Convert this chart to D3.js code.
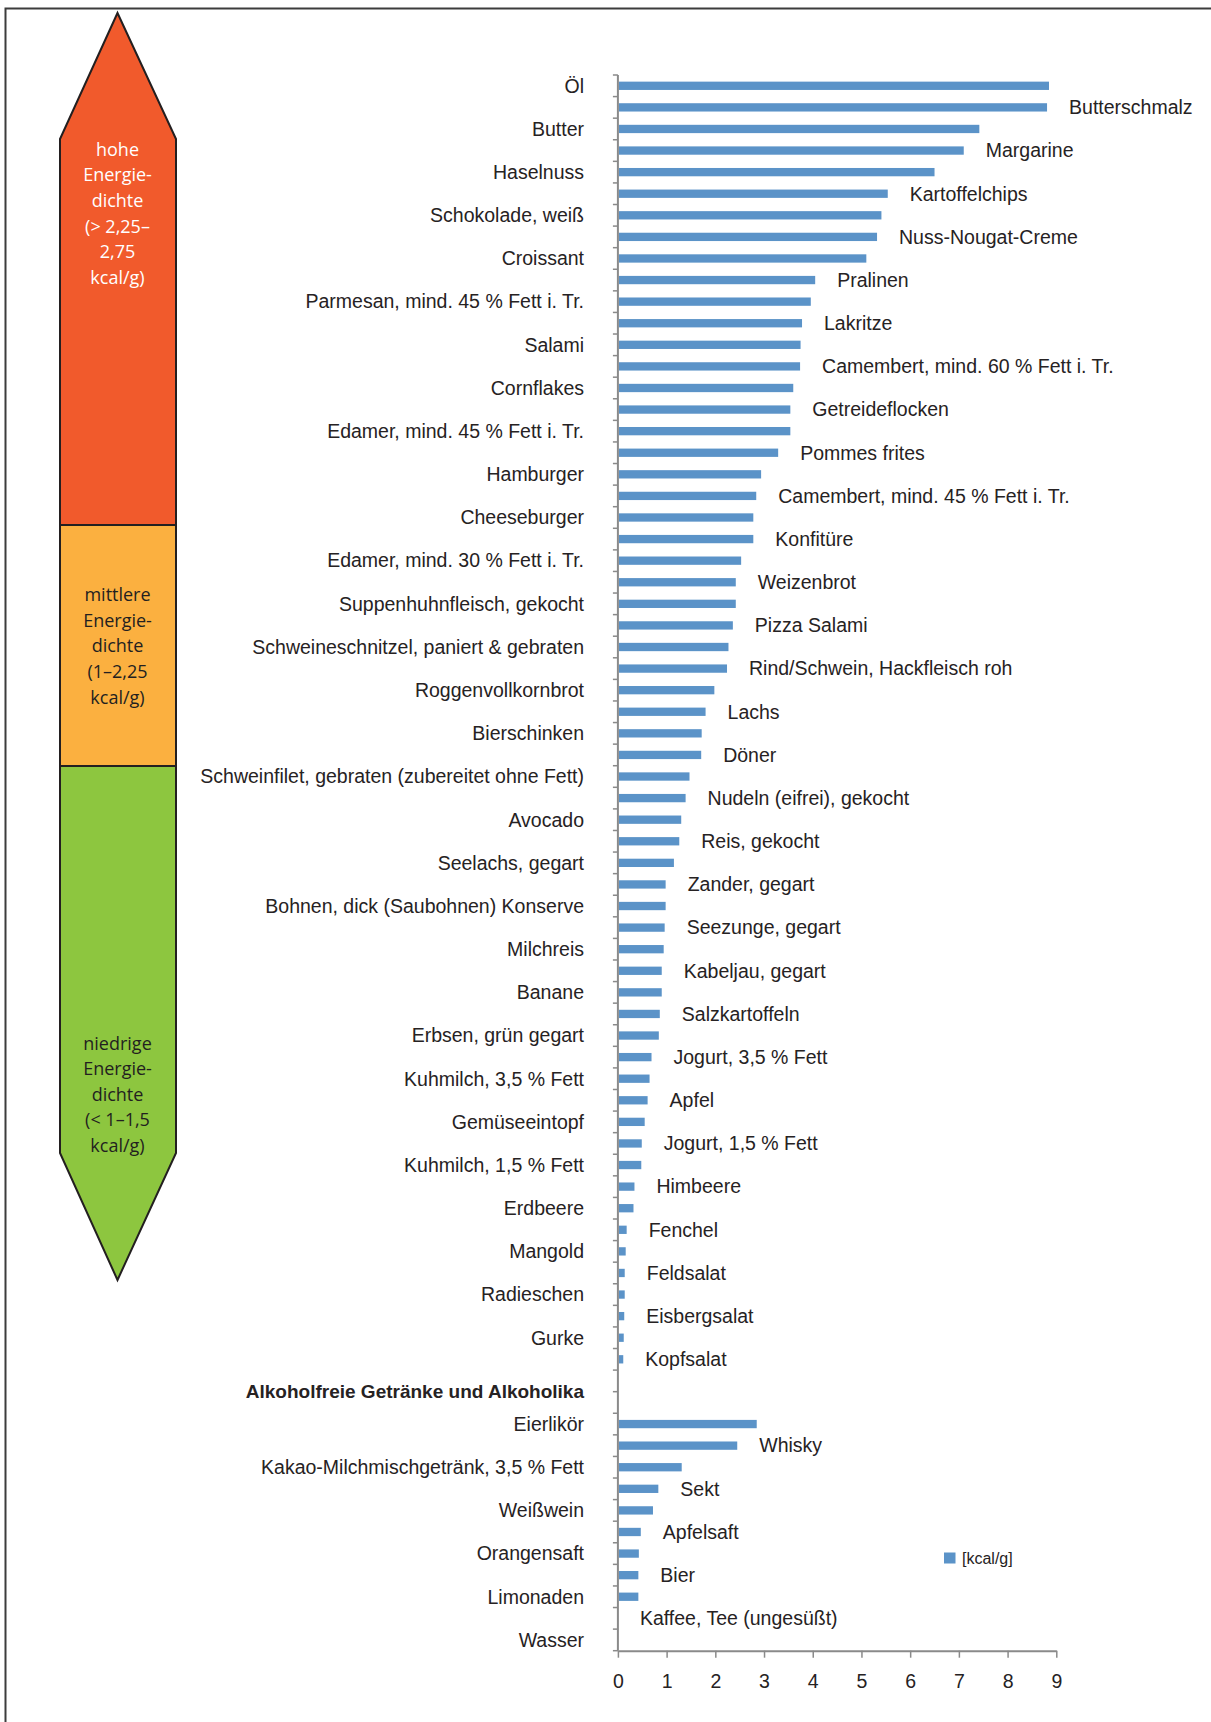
<!DOCTYPE html>
<html><head><meta charset="utf-8">
<script src="https://cdn.jsdelivr.net/npm/d3@7"></script>
<style>body{margin:0;background:#fff}</style>
</head><body>
<svg id="c" width="1211" height="1722"></svg>
<script>
const foods = ["Öl","Butterschmalz","Butter","Margarine","Haselnuss","Kartoffelchips","Schokolade, weiß","Nuss-Nougat-Creme","Croissant","Pralinen","Parmesan, mind. 45 % Fett i. Tr.","Lakritze","Salami","Camembert, mind. 60 % Fett i. Tr.","Cornflakes","Getreideflocken","Edamer, mind. 45 % Fett i. Tr.","Pommes frites","Hamburger","Camembert, mind. 45 % Fett i. Tr.","Cheeseburger","Konfitüre","Edamer, mind. 30 % Fett i. Tr.","Weizenbrot","Suppenhuhnfleisch, gekocht","Pizza Salami","Schweineschnitzel, paniert & gebraten","Rind/Schwein, Hackfleisch roh","Roggenvollkornbrot","Lachs","Bierschinken","Döner","Schweinfilet, gebraten (zubereitet ohne Fett)","Nudeln (eifrei), gekocht","Avocado","Reis, gekocht","Seelachs, gegart","Zander, gegart","Bohnen, dick (Saubohnen) Konserve","Seezunge, gegart","Milchreis","Kabeljau, gegart","Banane","Salzkartoffeln","Erbsen, grün gegart","Jogurt, 3,5 % Fett","Kuhmilch, 3,5 % Fett","Apfel","Gemüseeintopf","Jogurt, 1,5 % Fett","Kuhmilch, 1,5 % Fett","Himbeere","Erdbeere","Fenchel","Mangold","Feldsalat","Radieschen","Eisbergsalat","Gurke","Kopfsalat"];
const foodValues = [8.85,8.81,7.42,7.10,6.50,5.54,5.41,5.32,5.10,4.05,3.96,3.78,3.75,3.74,3.60,3.54,3.54,3.29,2.94,2.84,2.78,2.78,2.53,2.42,2.42,2.36,2.27,2.24,1.98,1.80,1.72,1.71,1.47,1.39,1.30,1.26,1.15,0.98,0.98,0.96,0.94,0.90,0.90,0.86,0.84,0.69,0.65,0.61,0.55,0.49,0.48,0.34,0.32,0.18,0.16,0.14,0.14,0.13,0.12,0.11];
const groupHeader = "Alkoholfreie Getränke und Alkoholika";
const spacers = ["__spacer1","__spacer2"];
const drinks = ["Eierlikör","Whisky","Kakao-Milchmischgetränk, 3,5 % Fett","Sekt","Weißwein","Apfelsaft","Orangensaft","Bier","Limonaden","Kaffee, Tee (ungesüßt)","Wasser"];
const drinkValues = [2.85,2.45,1.31,0.83,0.72,0.47,0.43,0.42,0.42,0,0];
const xTicks = [0,1,2,3,4,5,6,7,8,9];
const legendLabel = "[kcal/g]";
const zoneHigh = ["hohe","Energie-","dichte","(> 2,25–","2,75","kcal/g)"];
const zoneMid = ["mittlere","Energie-","dichte","(1–2,25","kcal/g)"];
const zoneLow = ["niedrige","Energie-","dichte","(< 1–1,5","kcal/g)"];

const rows = foods.map((c,i)=>({c, v: foodValues[i]}))
  .concat(spacers.map(c=>({c, v:null})))
  .concat(drinks.map((c,i)=>({c, v: drinkValues[i]})));
const domain = rows.map(d=>d.c);

const svg = d3.select("#c");
const barColor = "#5b93c8";
const textColor = "#262223";
const axisColor = "#8a8a8a";
const labelFont = "'Liberation Sans', Arial, sans-serif";

// frame
svg.append("path").attr("d","M5.5,1722 V8.5 H1211").attr("fill","none").attr("stroke","#3c3c3c").attr("stroke-width",2);

// scales
const y = d3.scaleBand().domain(domain).range([75, 1650.7]).padding(0);
const x = d3.scaleLinear().domain([0,9]).range([617.9, 1056.3]);
const bw = y.bandwidth();
const bh = bw*0.385;

// bars
svg.append("g").selectAll("rect").data(rows.filter(d=>d.v!==null && d.v>0)).join("rect")
  .attr("x", x(0)+1).attr("y", d=>y(d.c)+(bw-bh)/2)
  .attr("width", d=>x(d.v)-x(0)-1).attr("height", bh).attr("fill", barColor);

// y axis line + boundary ticks
const yAx = svg.append("g");
yAx.append("line").attr("x1",x(0)).attr("x2",x(0)).attr("y1",y.range()[0]).attr("y2",y.range()[1])
  .attr("stroke",axisColor).attr("stroke-width",2);
const bounds = domain.map(c=>y(c)).concat([y.range()[1]]);
yAx.selectAll("line.t").data(bounds).join("line").attr("class","t")
  .attr("x1",x(0)-5).attr("x2",x(0)).attr("y1",d=>d).attr("y2",d=>d)
  .attr("stroke",axisColor).attr("stroke-width",1.5);

// x axis
const xAxis = d3.axisBottom(x).tickValues(xTicks).tickFormat(d3.format("d")).tickSize(7).tickSizeOuter(0).tickPadding(16.5);
const xg = svg.append("g").attr("transform",`translate(0,${y.range()[1]})`).call(xAxis);
xg.select(".domain").attr("stroke",axisColor).attr("stroke-width",2);
xg.selectAll(".tick line").attr("stroke",axisColor).attr("stroke-width",1.5);
xg.selectAll(".tick text").attr("fill",textColor).style("font-family",labelFont).style("font-size","19.5px");

// labels
const lab = svg.append("g").style("font-family",labelFont).style("font-size","19.5px").attr("fill",textColor);
rows.forEach((d,i)=>{
  if (d.v===null) return;
  const cy = y(d.c)+bw/2;
  if (i%2===0) {
    lab.append("text").attr("x",584).attr("y",cy).attr("dy","0.35em").attr("text-anchor","end").text(d.c);
  } else {
    lab.append("text").attr("x",x(d.v)+22).attr("y",cy).attr("dy","0.35em").text(d.c);
  }
});
// group header
const hy = (y(spacers[0])+y(spacers[1])+bw)/2;
lab.append("text").attr("x",584).attr("y",hy).attr("dy","0.35em").attr("text-anchor","end")
  .style("font-weight","bold").style("font-size","19px").text(groupHeader);

// legend
svg.append("rect").attr("x",944).attr("y",1552.5).attr("width",11.5).attr("height",11).attr("fill",barColor);
svg.append("text").attr("x",962).attr("y",1558).attr("dy","0.35em").attr("fill",textColor)
  .style("font-family",labelFont).style("font-size","16px").text(legendLabel);

// energy-density arrow
const A = {l:60, r:176, c:117.5, top:13, sh1:139, b1:525, b2:766, sh2:1153, bot:1280};
const ag = svg.append("g");
ag.append("path").attr("d",`M${A.c},${A.top} L${A.r},${A.sh1} V${A.b1} H${A.l} V${A.sh1} Z`).attr("fill","#f15a2c");
ag.append("rect").attr("x",A.l).attr("y",A.b1).attr("width",A.r-A.l).attr("height",A.b2-A.b1).attr("fill","#fbb040");
ag.append("path").attr("d",`M${A.l},${A.b2} H${A.r} V${A.sh2} L${A.c},${A.bot} L${A.l},${A.sh2} Z`).attr("fill","#8dc63f");
ag.append("path").attr("d",`M${A.c},${A.top} L${A.r},${A.sh1} V${A.sh2} L${A.c},${A.bot} L${A.l},${A.sh2} V${A.sh1} Z`)
  .attr("fill","none").attr("stroke","#231f20").attr("stroke-width",2).attr("stroke-linejoin","miter");
ag.append("line").attr("x1",A.l).attr("x2",A.r).attr("y1",A.b1).attr("y2",A.b1).attr("stroke","#231f20").attr("stroke-width",2);
ag.append("line").attr("x1",A.l).attr("x2",A.r).attr("y1",A.b2).attr("y2",A.b2).attr("stroke","#231f20").attr("stroke-width",2);

function zoneText(lines, cy, color){
  const lh = 25.6;
  const g = ag.append("g").style("font-family","'Open Sans', sans-serif").style("font-size","18px").attr("fill",color).attr("text-anchor","middle");
  lines.forEach((t,i)=>{
    g.append("text").attr("x",A.c).attr("y",cy+(i-(lines.length-1)/2)*lh).attr("dy","0.35em").text(t);
  });
}
zoneText(zoneHigh, 213.5, "#ffffff");
zoneText(zoneMid, 646, "#231f20");
zoneText(zoneLow, 1094.5, "#231f20");
</script>
</body></html>
